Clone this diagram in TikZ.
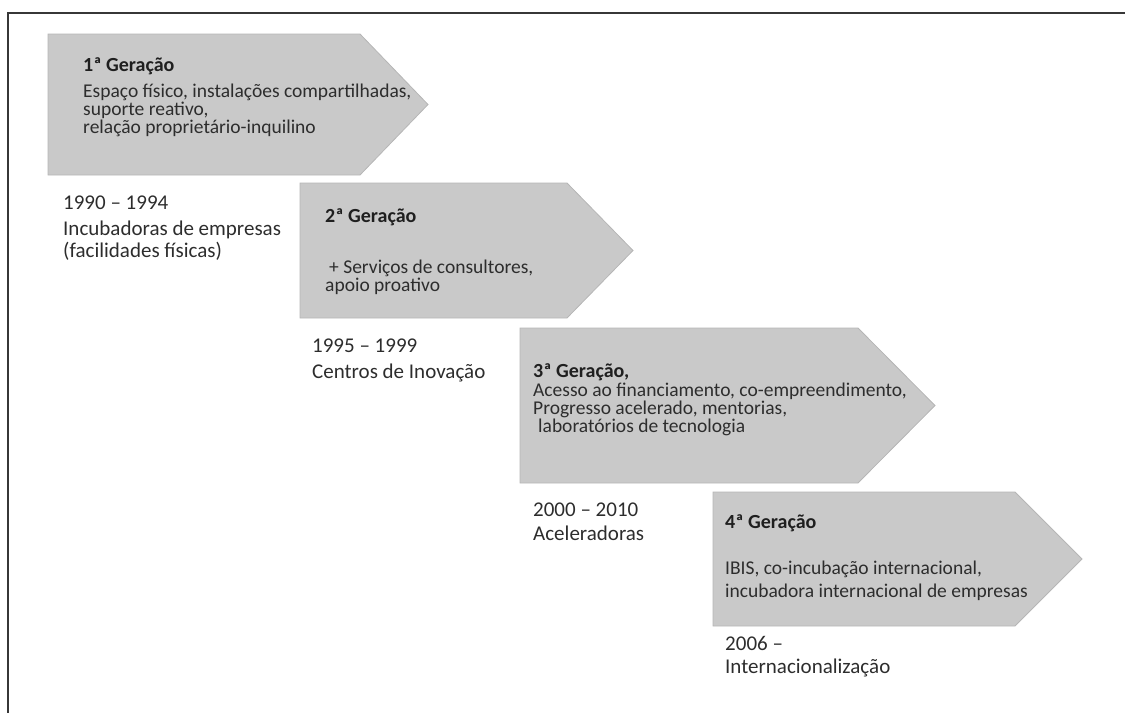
\documentclass[tikz,border=0pt]{standalone}
\usepackage{fontspec}
\setmainfont{Carlito}
\definecolor{boxfill}{RGB}{201,201,201}
\definecolor{boxedge}{RGB}{182,182,182}
\definecolor{txt}{RGB}{45,45,45}
\definecolor{framecol}{RGB}{55,55,55}
\begin{document}
\begin{tikzpicture}[x=1pt,y=-1pt,
  genarrow/.style={fill=boxfill,draw=boxedge,line width=0.8pt,line join=miter},
  gtitle/.style={anchor=base west,inner sep=0pt,font=\fontsize{20}{24}\selectfont\bfseries,text=black!88},
  gbody/.style={anchor=base west,inner sep=0pt,font=\fontsize{19.5}{18}\selectfont,text=txt},
  glabel/.style={anchor=base west,inner sep=0pt,font=\fontsize{21}{24}\selectfont,text=txt}]
\useasboundingbox (0,0) rectangle (1125,713);
% frame
\coordinate (fr1) at (1125,13);
\coordinate (fr2) at (8,13);
\coordinate (fr3) at (8,713);
\draw[framecol,line width=2.4pt] (fr1) -- (fr2) -- (fr3);
% arrows
\draw[genarrow] (48,34) -- (360,34) -- (428,104.5) -- (360,175) -- (48,175) -- cycle;
\draw[genarrow] (300,183) -- (567,183) -- (633,250.5) -- (567,318) -- (300,318) -- cycle;
\draw[genarrow] (520,328) -- (858,328) -- (935,405.5) -- (858,483) -- (520,483) -- cycle;
\draw[genarrow] (713,492) -- (1015,492) -- (1082,559) -- (1015,626) -- (713,626) -- cycle;
% box 1
\node[gtitle] (t1) at (83,71) {1ª Geração};
\node[gbody] (b1a) at (83,97) {Espaço físico, instalações compartilhadas,};
\node[gbody] (b1b) at (83,115) {suporte reativo,};
\node[gbody] (b1c) at (83,133) {relação proprietário-inquilino};
% box 2
\node[gtitle] (t2) at (325,222) {2ª Geração};
\node[gbody] (b2a) at (329,273) {+ Serviços de consultores,};
\node[gbody] (b2b) at (325,291) {apoio proativo};
% box 3
\node[gtitle] (t3) at (533,377) {3ª Geração,};
\node[gbody] (b3a) at (533,396) {Acesso ao financiamento, co-empreendimento,};
\node[gbody] (b3b) at (533,414) {Progresso acelerado, mentorias,};
\node[gbody] (b3c) at (538,432) {laboratórios de tecnologia};
% box 4
\node[gtitle] (t4) at (725,528) {4ª Geração};
\node[gbody] (b4a) at (725,574) {IBIS, co-incubação internacional,};
\node[gbody] (b4b) at (725,597) {incubadora internacional de empresas};
% labels
\node[glabel] (l1a) at (63,209) {1990 – 1994};
\node[glabel] (l1b) at (63,235) {Incubadoras de empresas};
\node[glabel] (l1c) at (63,257) {(facilidades físicas)};
\node[glabel] (l2a) at (312,352) {1995 – 1999};
\node[glabel] (l2b) at (312,378) {Centros de Inovação};
\node[glabel] (l3a) at (533,516) {2000 – 2010};
\node[glabel] (l3b) at (533,540) {Aceleradoras};
\node[glabel] (l4a) at (725,650) {2006 –};
\node[glabel] (l4b) at (725,673) {Internacionalização};
\end{tikzpicture}
\end{document}
